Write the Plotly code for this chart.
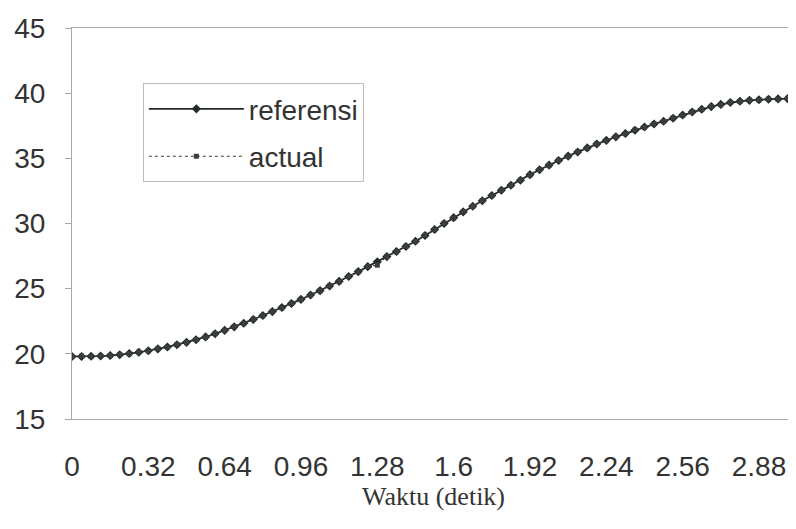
import plotly.graph_objects as go

# Waktu (detik), step 0.04
waktu = [0.00, 0.04, 0.08, 0.12, 0.16, 0.20, 0.24, 0.28, 0.32, 0.36,
         0.40, 0.44, 0.48, 0.52, 0.56, 0.60, 0.64, 0.68, 0.72, 0.76,
         0.80, 0.84, 0.88, 0.92, 0.96, 1.00, 1.04, 1.08, 1.12, 1.16,
         1.20, 1.24, 1.28, 1.32, 1.36, 1.40, 1.44, 1.48, 1.52, 1.56,
         1.60, 1.64, 1.68, 1.72, 1.76, 1.80, 1.84, 1.88, 1.92, 1.96,
         2.00, 2.04, 2.08, 2.12, 2.16, 2.20, 2.24, 2.28, 2.32, 2.36,
         2.40, 2.44, 2.48, 2.52, 2.56, 2.60, 2.64, 2.68, 2.72, 2.76,
         2.80, 2.84, 2.88, 2.92, 2.96, 3.00, 3.04]

referensi = [19.80, 19.80, 19.81, 19.83, 19.87, 19.93, 20.02, 20.12, 20.24, 20.38,
             20.53, 20.70, 20.88, 21.08, 21.30, 21.54, 21.80, 22.07, 22.35, 22.64,
             22.94, 23.24, 23.55, 23.86, 24.18, 24.51, 24.85, 25.20, 25.56, 25.93,
             26.31, 26.69, 27.07, 27.46, 27.85, 28.24, 28.64, 29.08, 29.54, 30.00,
             30.45, 30.89, 31.32, 31.74, 32.15, 32.55, 32.94, 33.32, 33.75, 34.12,
             34.48, 34.83, 35.17, 35.49, 35.80, 36.10, 36.38, 36.65, 36.91, 37.16,
             37.40, 37.63, 37.85, 38.08, 38.32, 38.55, 38.77, 38.97, 39.14, 39.28,
             39.38, 39.45, 39.50, 39.53, 39.56, 39.58, 39.60]

actual = [19.78, 19.82, 19.79, 19.85, 19.86, 19.95, 20.00, 20.14, 20.22, 20.40,
          20.51, 20.72, 20.86, 21.10, 21.28, 21.56, 21.78, 22.09, 22.33, 22.66,
          22.92, 23.26, 23.53, 23.88, 24.16, 24.53, 24.83, 25.22, 25.54, 25.95,
          26.29, 26.71, 26.80, 27.48, 27.83, 28.26, 28.62, 29.10, 29.52, 30.02,
          30.43, 30.91, 31.30, 31.76, 32.13, 32.57, 32.92, 33.34, 33.73, 34.14,
          34.46, 34.85, 35.15, 35.51, 35.78, 36.12, 36.36, 36.67, 36.89, 37.18,
          37.38, 37.65, 37.83, 38.10, 38.30, 38.57, 38.75, 38.99, 39.12, 39.30,
          39.36, 39.47, 39.48, 39.55, 39.54, 39.60, 39.58]

# axis labels
x_label_vals = [0, 0.32, 0.64, 0.96, 1.28, 1.6, 1.92, 2.24, 2.56, 2.88]
x_label_text = ["0", "0.32", "0.64", "0.96", "1.28", "1.6", "1.92", "2.24", "2.56", "2.88"]
x_tick_marks = [0, 0.4, 0.8, 1.2, 1.6, 2.0, 2.4, 2.8]

line_col = "#232a28"
axis_col = "#a8a8a8"

fig = go.Figure()

fig.add_trace(go.Scatter(
    x=waktu, y=referensi, name="referensi", legendgroup="a",
    mode="lines+markers",
    line=dict(color=line_col, width=1.8),
    marker=dict(symbol="diamond", size=7, color=line_col),
))

fig.add_trace(go.Scatter(
    x=waktu, y=actual, name="actual", legendgroup="b",
    mode="lines+markers",
    line=dict(color="#3a3f3e", width=1.2, dash="dot"),
    marker=dict(symbol="square", size=5, color="#3a3f3e"),
))

# page body adds an 8px offset, so the figure is sized to fit the window
fig.update_layout(
    width=788, height=521, autosize=False,
    margin=dict(l=64, r=1, t=20, b=110, autoexpand=False),
    plot_bgcolor="white", paper_bgcolor="white",
    font=dict(family="Liberation Sans, Arial", size=28, color="#333333"),
    showlegend=True,
    legend=dict(
        x=0.098, y=0.859, xanchor="left", yanchor="top",
        bordercolor="#bdbdbd", borderwidth=1, bgcolor="white",
        font=dict(size=28, color="#333333"),
        itemwidth=95, tracegroupgap=8,
    ),
    xaxis=dict(
        range=[0, 3.031], showgrid=False, zeroline=False, automargin=False,
        tickmode="array", tickvals=x_label_vals, ticktext=x_label_text,
        ticks="", ticklabelstandoff=22,
        showline=True, linecolor=axis_col, linewidth=1, mirror=True,
        title=dict(text="Waktu (detik)", standoff=1,
                   font=dict(family="Liberation Serif, Times New Roman", size=26, color="#333333")),
    ),
    xaxis2=dict(
        overlaying="x", anchor="y", side="bottom", automargin=False,
        range=[0, 3.031], showgrid=False, zeroline=False,
        tickmode="array", tickvals=x_tick_marks, showticklabels=False,
        ticks="outside", ticklen=6, tickcolor=axis_col, showline=False,
    ),
    yaxis=dict(
        range=[15, 45], tickmode="linear", tick0=15, dtick=5, automargin=False,
        showgrid=False, zeroline=False,
        ticks="outside", ticklen=6, tickcolor=axis_col, ticklabelstandoff=14,
        showline=True, linecolor=axis_col, linewidth=1,
    ),
)

fig.write_html("out.html")
